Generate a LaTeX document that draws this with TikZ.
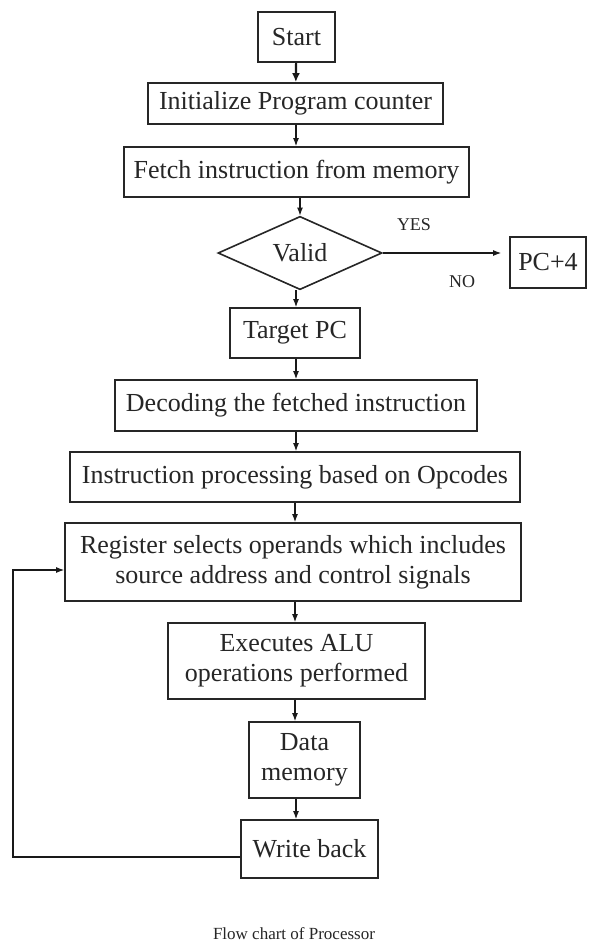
\documentclass[tikz,border=0pt]{standalone}
\usepackage{fontspec}
\setmainfont{Liberation Serif}
\usetikzlibrary{shapes.geometric,arrows.meta}

\begin{document}
\begin{tikzpicture}[x=1pt,y=1pt,
  box/.style={draw=black!85, line width=1.8pt, rectangle, inner sep=0pt,
    font=\fontsize{26}{30}\selectfont, text=black!85, align=center},
  decision/.style={draw=black!85, line width=1.6pt, diamond, inner sep=0pt,
    font=\fontsize{26}{30}\selectfont, text=black!85},
  flow/.style={draw=black!90, line width=1.1pt, -{Latex[length=8pt,width=6pt]}},
  smalltext/.style={font=\fontsize{18}{21}\selectfont, text=black!85, inner sep=0pt}]
\useasboundingbox (0,0) rectangle (594,-948);
\fill[white] (0,0) rectangle (594,-948);

% process boxes (centre, width, height)
\node[box, minimum width=77, minimum height=50]  (start)  at (296.5,-37)   {Start};
\node[box, minimum width=295, minimum height=41] (init)   at (295.5,-103.5){Initialize Program counter};
\node[box, minimum width=345, minimum height=50] (fetch)  at (296.5,-172)  {Fetch instruction from memory};
\node[decision, minimum width=164, minimum height=68] (valid) at (300,-253) {Valid};
\node[box, minimum width=76, minimum height=51]  (pcfour) at (548,-262.5) {PC+4};
\node[box, minimum width=130, minimum height=50] (target) at (295,-333)   {Target PC};
\node[box, minimum width=362, minimum height=51] (decode) at (296,-405.5) {Decoding the fetched instruction};
\node[box, minimum width=450, minimum height=50] (instr)  at (295,-477)   {Instruction processing based on Opcodes};
\node[box, minimum width=456, minimum height=78] (reg)    at (293,-562)
  {Register selects operands which includes\\source address and control signals};
\node[box, minimum width=257, minimum height=76] (alu)    at (296.5,-661) {Executes ALU\\operations performed};
\node[box, minimum width=111, minimum height=76] (dmem)   at (304.5,-760) {Data\\memory};
\node[box, minimum width=137, minimum height=58] (wback)  at (309.5,-849) {Write back};

% branch labels and caption
\node[smalltext] (yes) at (414,-225) {YES};
\node[smalltext] (no)  at (462,-282) {NO};
\node[smalltext, font=\fontsize{17}{20}\selectfont] (caption) at (294,-934) {Flow chart of Processor};

% main flow
\draw[flow, line width=2.2pt, -{Latex[length=9pt,width=8pt]}] (start) -- (init);
\draw[flow] (init.south -| 296,0) -- (fetch.north -| 296,0);
\draw[flow] (fetch.south -| valid.north) -- (valid.north);
\draw[flow, shorten >=8pt] (valid.east) -- (valid.east -| pcfour.west);
\draw[flow] (valid.south -| 296,0) -- (target.north -| 296,0);
\draw[flow] (target.south -| 296,0) -- (decode.north -| 296,0);
\draw[flow] (decode.south -| 296,0) -- (instr.north -| 296,0);
\draw[flow] (instr.south -| 295,0) -- (reg.north -| 295,0);
\draw[flow] (reg.south -| 295,0) -- (alu.north -| 295,0);
\draw[flow] (alu.south -| 295,0) -- (dmem.north -| 295,0);
\draw[flow] (dmem.south -| 296,0) -- (wback.north -| 296,0);

% write-back loop to the register stage
\coordinate (loopb) at (13,-857);
\coordinate (loopt) at (13,-570);
\draw[flow] (wback.west |- loopb) -- (loopb) -- (loopt) -- (loopt -| reg.west);
\end{tikzpicture}
\end{document}
